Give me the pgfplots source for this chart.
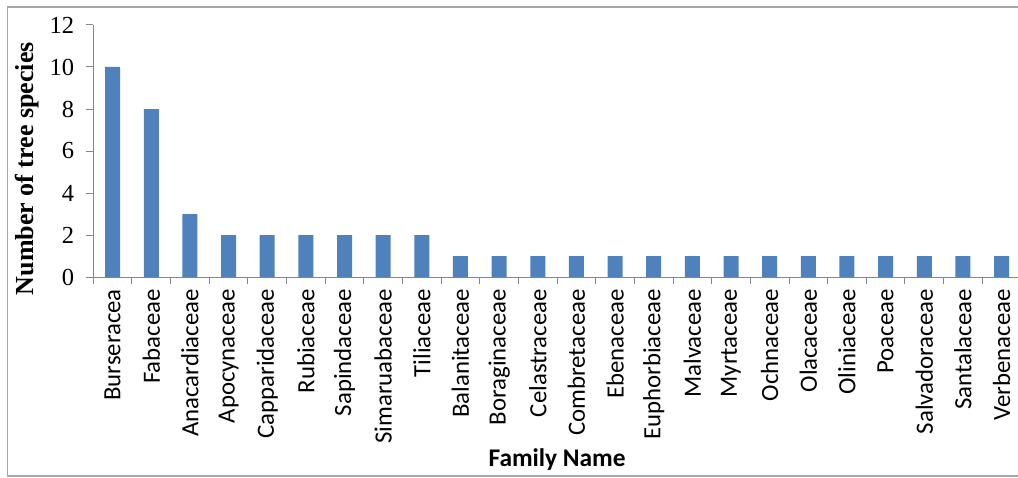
\documentclass[border=0pt]{standalone}
\usepackage{fontspec}
\setmainfont{Liberation Serif}
\newfontfamily\calibri{Carlito}
\usepackage{pgfplots}
\pgfplotsset{compat=1.18}
\definecolor{barblue}{HTML}{4F81BD}
\definecolor{axisgray}{HTML}{868686}
\definecolor{framegray}{HTML}{A6A6A6}
\begin{document}
\begin{tikzpicture}
\path[use as bounding box] (0,0) rectangle (1018pt,477pt);
\draw[framegray, line width=1.6pt] (1018pt,1pt) -- (7.3pt,1pt) -- (7.3pt,470pt) -- (1018pt,470pt);
\begin{axis}[
  at={(93.3pt,200pt)}, anchor=south west,
  scale only axis, width=927.6pt, height=252pt,
  xmin=-0.5, xmax=23.5, ymin=0, ymax=12,
  axis x line*=bottom, axis y line*=left,
  axis line style={draw=axisgray, line width=1pt, -},
  tick style={draw=axisgray, line width=1pt},
  tick align=outside, major tick length=7pt,
  xtick={-0.5,0.5,...,23.5},
  x tick label as interval,
  xticklabels={Burseracea,Fabaceae,Anacardiaceae,Apocynaceae,Capparidaceae,Rubiaceae,Sapindaceae,Simaruabaceae,Tiliaceae,Balanitaceae,Boraginaceae,Celastraceae,Combretaceae,Ebenaceae,Euphorbiaceae,Malvaceae,Myrtaceae,Ochnaceae,Olacaceae,Oliniaceae,Poaceae,Salvadoraceae,Santalaceae,Verbenaceae},
  xticklabel style={font=\calibri\fontsize{24.8}{28}\selectfont, rotate=90, anchor=east, inner sep=5pt},
  ytick={0,2,...,12},
  yticklabels={0,2,4,6,8,10,12},
  yticklabel style={font=\rmfamily\fontsize{24.5}{28}\selectfont, inner sep=2pt, xshift=-10pt},
  ylabel={\textbf{Number of tree species}},
  ylabel style={at={(axis description cs:-0.0717,0.43)}, anchor=center, font=\fontsize{26}{30}\selectfont},
  xlabel={\textbf{Family Name}},
  xlabel style={at={(axis description cs:0.5,-0.75)}, anchor=base, font=\calibri\fontsize{25.4}{30}\selectfont},
  ybar, bar width=15pt,
]
\addplot[fill=barblue, draw=none] coordinates {
(0,10) (1,8) (2,3) (3,2) (4,2) (5,2) (6,2) (7,2) (8,2)
(9,1) (10,1) (11,1) (12,1) (13,1) (14,1) (15,1) (16,1) (17,1) (18,1) (19,1) (20,1) (21,1) (22,1) (23,1)};
\end{axis}
\end{tikzpicture}
\end{document}
